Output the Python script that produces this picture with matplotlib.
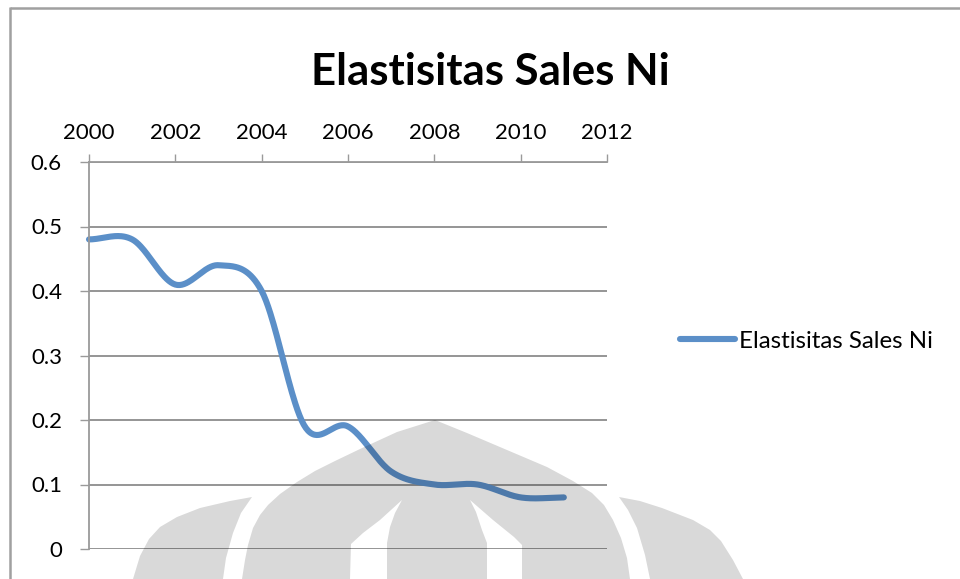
import numpy as np
import matplotlib
matplotlib.use("Agg")
import matplotlib.pyplot as plt
from matplotlib.patches import Polygon

# data
years = [2000, 2001, 2002, 2003, 2004, 2005, 2006, 2007, 2008, 2009, 2010, 2011]
elastisitas = [0.48, 0.48, 0.41, 0.44, 0.40, 0.19, 0.19, 0.12, 0.10, 0.10, 0.08, 0.08]
series_name = "Elastisitas Sales Ni"
x_ticks = [2000, 2002, 2004, 2006, 2008, 2010, 2012]
y_ticks = [0, 0.1, 0.2, 0.3, 0.4, 0.5, 0.6]
y_labels = ["0", "0.1", "0.2", "0.3", "0.4", "0.5", "0.6"]

plt.rcParams['font.family'] = ['Lato', 'DejaVu Sans']

W, H = 960, 579
fig = plt.figure(figsize=(W / 100, H / 100), dpi=100)
fig.patch.set_facecolor('white')


def smooth_line(x, y, steps=40):
    """Catmull-Rom curve through the points (like Excel's smoothed line)."""
    x = np.asarray(x, float)
    y = np.asarray(y, float)
    n = len(x)
    # tangents: central differences, flat at the ends
    mx = np.empty(n)
    my = np.empty(n)
    mx[1:-1] = (x[2:] - x[:-2]) / 2
    my[1:-1] = (y[2:] - y[:-2]) / 2
    mx[0], my[0] = x[1] - x[0], 0.0
    mx[-1], my[-1] = x[-1] - x[-2], 0.0
    xs, ys = [], []
    t = np.linspace(0, 1, steps, endpoint=False)
    h00 = 2 * t**3 - 3 * t**2 + 1
    h10 = t**3 - 2 * t**2 + t
    h01 = -2 * t**3 + 3 * t**2
    h11 = t**3 - t**2
    for i in range(n - 1):
        xs.append(h00 * x[i] + h10 * mx[i] + h01 * x[i + 1] + h11 * mx[i + 1])
        ys.append(h00 * y[i] + h10 * my[i] + h01 * y[i + 1] + h11 * my[i + 1])
    xs.append([x[-1]])
    ys.append([y[-1]])
    return np.concatenate(xs), np.concatenate(ys)


# plot area
ax = fig.add_axes([89 / W, 1 - 549 / H, 518 / W, 387 / H])
ax.set_xlim(2000, 2012)
ax.set_ylim(0, 0.6)

grid_c = '#8c8c8c'
ax.set_yticks(y_ticks)
ax.set_yticklabels(y_labels)
ax.set_xticks(x_ticks)
ax.xaxis.tick_top()
ax.grid(True, axis='y', color=grid_c, linewidth=1.3)
ax.set_axisbelow(True)
for s in ['right', 'bottom']:
    ax.spines[s].set_visible(False)
for s in ['left', 'top']:
    ax.spines[s].set_color('#9a9a9a')
    ax.spines[s].set_linewidth(1.3)
ax.tick_params(axis='y', direction='out', length=6.5, width=1.0, color='#9a9a9a',
               labelsize=16, pad=13, labelcolor='black')
ax.tick_params(axis='x', direction='out', length=6, width=1.0, color='#9a9a9a',
               labelsize=16, pad=8, labelcolor='black')

sx, sy = smooth_line(years, elastisitas)
ax.plot(sx, sy, color='#5b8fc8', linewidth=4.4, solid_capstyle='round',
        label=series_name, clip_on=False)

# title
fig.text(490 / W, 1 - 85 / H, series_name, ha='center', va='baseline',
         fontsize=31.5, fontweight='bold')

# legend
fs = 17.3
fs_px = fs * 100 / 72
fig.legend(loc='center left', bbox_to_anchor=(680 / W, 1 - 341 / H), frameon=False,
           fontsize=fs, handlelength=55 / fs_px, handletextpad=4 / fs_px,
           borderpad=0, borderaxespad=0)

# overlay: chart border and background watermark
ov = fig.add_axes([0, 0, 1, 1], zorder=10)
ov.set_xlim(0, W)
ov.set_ylim(H, 0)
ov.axis('off')
ov.patch.set_alpha(0)

ov.plot([10, W], [7.5, 7.5], color='#a0a0a0', linewidth=1.8, solid_capstyle='butt')
ov.plot([10, 10], [6.6, H], color='#a0a0a0', linewidth=1.8, solid_capstyle='butt')

dome = [(242, 579), (245, 560), (248, 545), (253, 528), (260, 515), (268, 505),
        (280, 494), (297, 482), (315, 471), (335, 461), (360, 449), (397, 432),
        (435, 420), (467, 433), (507, 450), (547, 467), (573, 481), (592, 493),
        (604, 505), (613, 520), (621, 538), (627, 558), (630, 579),
        (522, 579), (522, 545), (514, 537), (493, 520), (470, 500),
        (476, 512), (482, 530), (487, 543), (487, 579),
        (387, 579), (387, 543), (390, 527), (395, 513), (402, 500),
        (380, 520), (363, 533), (351, 544), (350, 579)]
wing_left = [(252, 497), (230, 501), (200, 508), (177, 517), (160, 527),
             (149, 539), (140, 556), (133, 579), (223, 579), (226, 558),
             (233, 533), (241, 513)]
wing_right = [(619, 497), (640, 501), (662, 508), (693, 520), (710, 530),
              (721, 541), (733, 560), (743, 579), (650, 579), (645, 555),
              (637, 528), (628, 510)]
for shape in (dome, wing_left, wing_right):
    ov.add_patch(Polygon(shape, closed=True, facecolor='black', alpha=0.15,
                         edgecolor='none'))

fig.savefig('out.png', dpi=100, facecolor='white')
